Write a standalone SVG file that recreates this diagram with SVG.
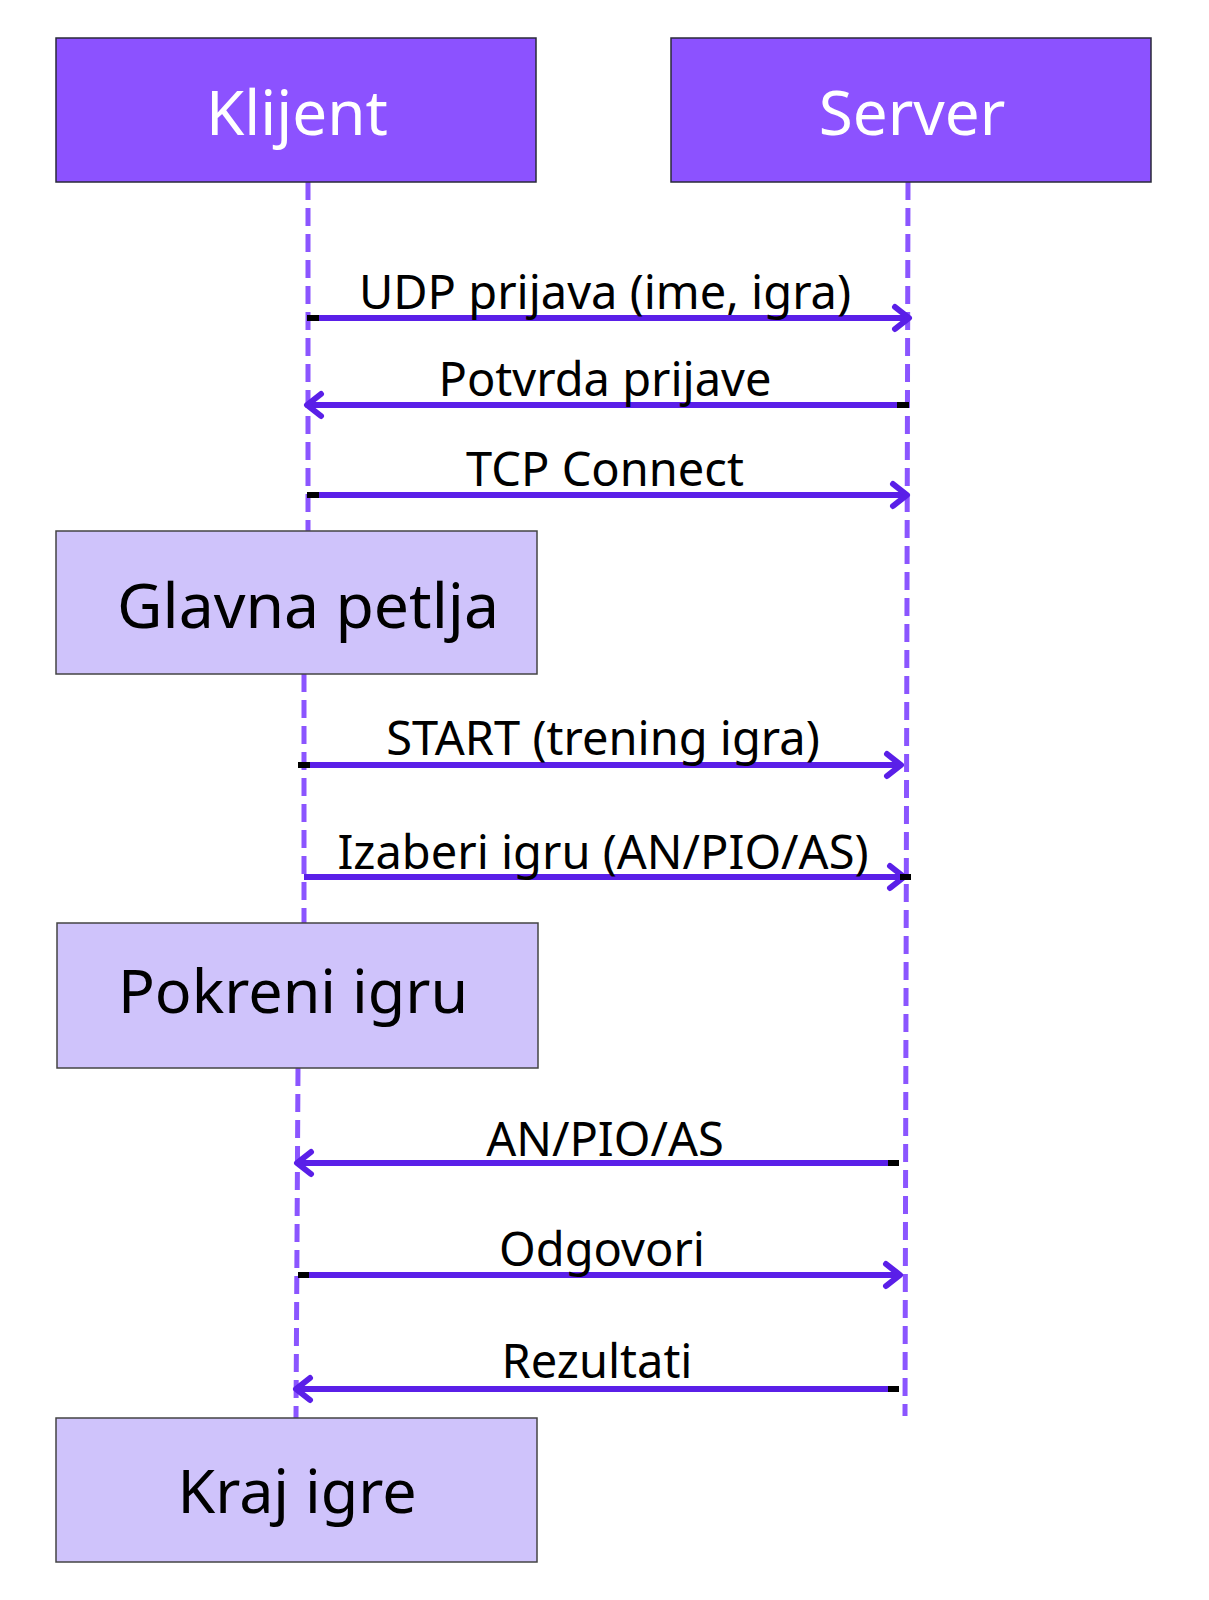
<svg xmlns="http://www.w3.org/2000/svg" width="1209" height="1600" viewBox="0 0 1209 1600">
<defs>
<style>
.hdr{fill:#8c52ff;stroke:#2a2a3a;stroke-width:1.5}
.blk{fill:#cfc3fb;stroke:#444;stroke-width:1.5}
.ht{font-family:"Noto Sans","Open Sans",sans-serif;font-size:62px;fill:#fff;text-anchor:middle}
.bt{font-family:"Noto Sans","Open Sans",sans-serif;font-size:61px;fill:#000;text-anchor:middle}
.lt{font-family:"Noto Sans","Open Sans",sans-serif;font-size:47px;fill:#000;text-anchor:middle}
.life{stroke:#8b55ff;stroke-width:5;stroke-dasharray:18 8;fill:none}
.msg{stroke:#5a1fe8;stroke-width:6;fill:none}
.tail{stroke:#000;stroke-width:6}
</style>
<marker id="ah" viewBox="0 0 24 30" refX="19" refY="15" markerWidth="24" markerHeight="30" markerUnits="userSpaceOnUse" orient="auto">
<path d="M5,4 L19,15 L5,26" fill="none" stroke="#5a1fe8" stroke-width="6" stroke-linecap="round" stroke-linejoin="round"/>
</marker>
</defs>
<rect width="1209" height="1600" fill="#fff"/>
<g id="lifelines">
<line class="life" x1="308" y1="182" x2="308" y2="531"/>
<line class="life" x1="304" y1="674" x2="304" y2="923"/>
<line class="life" x1="298" y1="1068" x2="296" y2="1418"/>
<line class="life" x1="908" y1="182" x2="905" y2="1416"/>
</g>
<g id="klijent"><rect class="hdr" x="56" y="38" width="480" height="144"/><text class="ht" x="297" y="135">Klijent</text></g>
<g id="server"><rect class="hdr" x="671" y="38" width="480" height="144"/><text class="ht" x="912" y="135">Server</text></g>
<g id="glavna"><rect class="blk" x="56" y="531" width="481" height="143"/><text class="bt" x="308" y="628" style="font-size:62.5px">Glavna petlja</text></g>
<g id="pokreni"><rect class="blk" x="57" y="923" width="481" height="145"/><text class="bt" x="293" y="1013">Pokreni igru</text></g>
<g id="kraj"><rect class="blk" x="56" y="1418" width="481" height="144"/><text class="bt" x="297" y="1513">Kraj igre</text></g>
<g id="connectors">
<line class="msg" x1="308" y1="318" x2="909" y2="318" marker-end="url(#ah)"/><line class="tail" x1="307" y1="318" x2="319" y2="318"/>
<line class="msg" x1="908" y1="405" x2="307" y2="405" marker-end="url(#ah)"/><line class="tail" x1="897" y1="405" x2="909" y2="405"/>
<line class="msg" x1="308" y1="495" x2="907" y2="495" marker-end="url(#ah)"/><line class="tail" x1="307" y1="495" x2="319" y2="495"/>
<line class="msg" x1="299" y1="765" x2="901" y2="765" marker-end="url(#ah)"/><line class="tail" x1="298" y1="765" x2="310" y2="765"/>
<line class="msg" x1="304" y1="877" x2="904" y2="877" marker-end="url(#ah)"/><line class="tail" x1="900" y1="877" x2="911" y2="877"/>
<line class="msg" x1="898" y1="1163" x2="297" y2="1163" marker-end="url(#ah)"/><line class="tail" x1="888" y1="1163" x2="899" y2="1163"/>
<line class="msg" x1="299" y1="1275" x2="900" y2="1275" marker-end="url(#ah)"/><line class="tail" x1="298" y1="1275" x2="309" y2="1275"/>
<line class="msg" x1="898" y1="1389" x2="296" y2="1389" marker-end="url(#ah)"/><line class="tail" x1="888" y1="1389" x2="899" y2="1389"/>
<text class="lt" x="605" y="309">UDP prijava (ime, igra)</text>
<text class="lt" x="605" y="396">Potvrda prijave</text>
<text class="lt" x="605" y="486">TCP Connect</text>
<text class="lt" x="603" y="755">START (trening igra)</text>
<text class="lt" x="603" y="869">Izaberi igru (AN/PIO/AS)</text>
<text class="lt" x="605" y="1156">AN/PIO/AS</text>
<text class="lt" x="602" y="1266">Odgovori</text>
<text class="lt" x="597" y="1378">Rezultati</text>
</g>
</svg>
